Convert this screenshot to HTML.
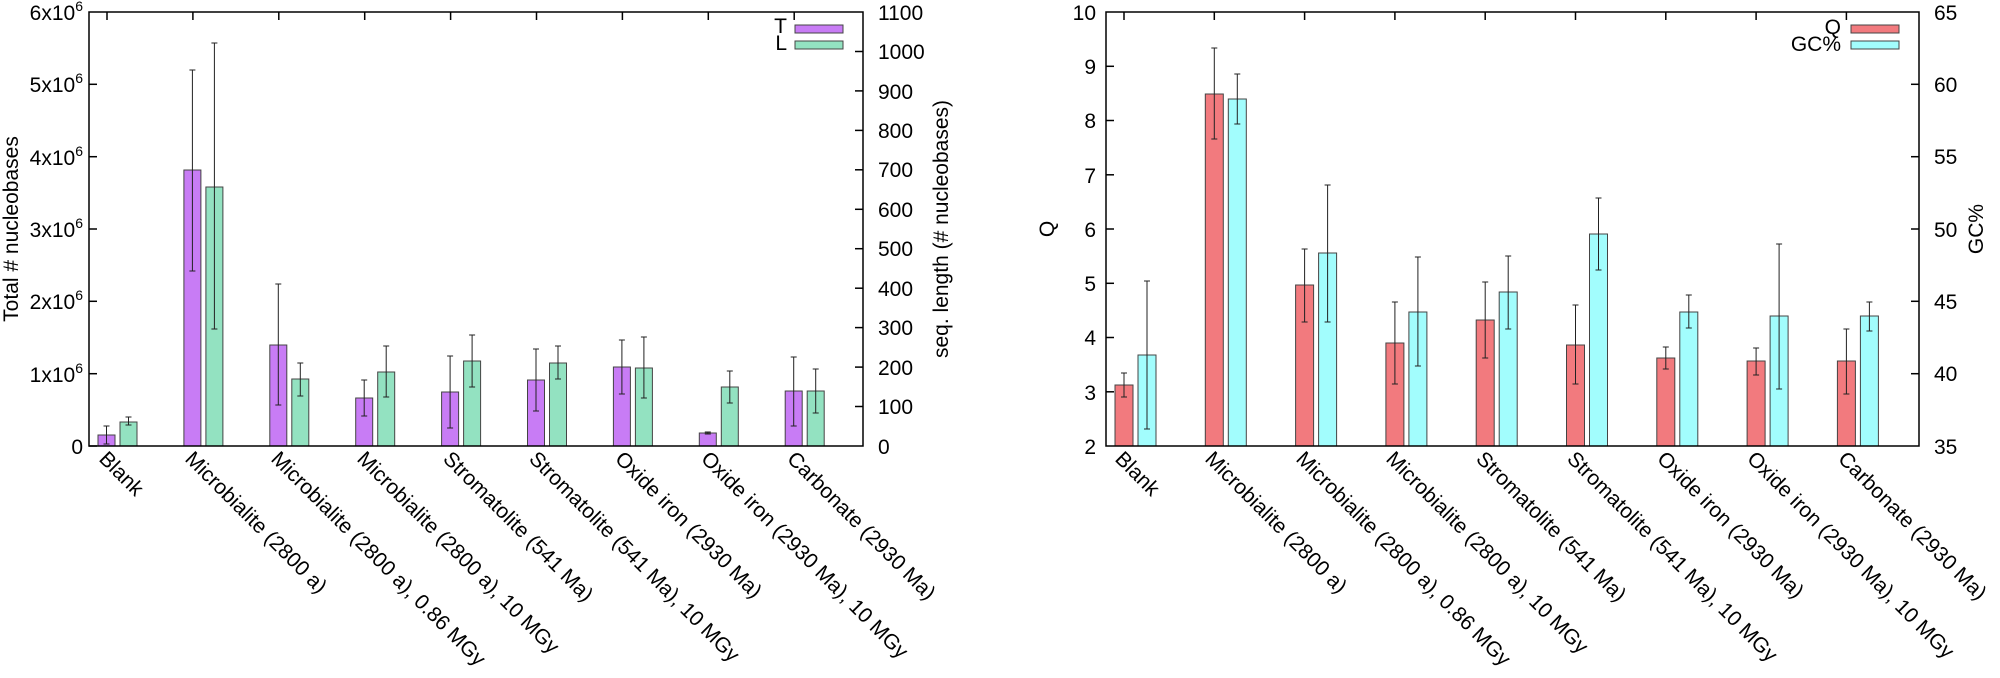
<!DOCTYPE html>
<html><head><meta charset="utf-8"><style>
html,body{margin:0;padding:0;background:#fff;}
svg{display:block;font-family:"Liberation Sans",Arial,sans-serif;}
</style></head><body>
<svg width="2000" height="678" viewBox="0 0 2000 678" xmlns="http://www.w3.org/2000/svg">
<g font-size="21" fill="#000">
<!-- LEFT CHART -->
<g stroke="#000" stroke-width="1.5">
<line x1="89" y1="446" x2="97" y2="446"/><line x1="89" y1="373.7" x2="97" y2="373.7"/><line x1="89" y1="301.3" x2="97" y2="301.3"/><line x1="89" y1="229" x2="97" y2="229"/><line x1="89" y1="156.7" x2="97" y2="156.7"/><line x1="89" y1="84.3" x2="97" y2="84.3"/>
<line x1="863" y1="406.5" x2="855" y2="406.5"/><line x1="863" y1="367.1" x2="855" y2="367.1"/><line x1="863" y1="327.6" x2="855" y2="327.6"/><line x1="863" y1="288.2" x2="855" y2="288.2"/><line x1="863" y1="248.7" x2="855" y2="248.7"/><line x1="863" y1="209.3" x2="855" y2="209.3"/><line x1="863" y1="169.8" x2="855" y2="169.8"/><line x1="863" y1="130.4" x2="855" y2="130.4"/><line x1="863" y1="90.9" x2="855" y2="90.9"/><line x1="863" y1="51.5" x2="855" y2="51.5"/>
<line x1="107" y1="12" x2="107" y2="20"/><line x1="192.9" y1="12" x2="192.9" y2="20"/><line x1="278.8" y1="12" x2="278.8" y2="20"/><line x1="364.7" y1="12" x2="364.7" y2="20"/><line x1="450.6" y1="12" x2="450.6" y2="20"/><line x1="536.5" y1="12" x2="536.5" y2="20"/><line x1="622.4" y1="12" x2="622.4" y2="20"/><line x1="708.3" y1="12" x2="708.3" y2="20"/><line x1="794.2" y1="12" x2="794.2" y2="20"/>
</g>
<g stroke="#444" stroke-width="1">
<rect x="98" y="435" width="17" height="11" fill="#c87cf5"/><rect x="120" y="422" width="17" height="24" fill="#93e2c1"/>
<rect x="183.9" y="170" width="17" height="276" fill="#c87cf5"/><rect x="205.9" y="187" width="17" height="259" fill="#93e2c1"/>
<rect x="269.8" y="345" width="17" height="101" fill="#c87cf5"/><rect x="291.8" y="379" width="17" height="67" fill="#93e2c1"/>
<rect x="355.7" y="398" width="17" height="48" fill="#c87cf5"/><rect x="377.7" y="372" width="17" height="74" fill="#93e2c1"/>
<rect x="441.6" y="392" width="17" height="54" fill="#c87cf5"/><rect x="463.6" y="361" width="17" height="85" fill="#93e2c1"/>
<rect x="527.5" y="380" width="17" height="66" fill="#c87cf5"/><rect x="549.5" y="363" width="17" height="83" fill="#93e2c1"/>
<rect x="613.4" y="367" width="17" height="79" fill="#c87cf5"/><rect x="635.4" y="368" width="17" height="78" fill="#93e2c1"/>
<rect x="699.3" y="433" width="17" height="13" fill="#c87cf5"/><rect x="721.3" y="387" width="17" height="59" fill="#93e2c1"/>
<rect x="785.2" y="391" width="17" height="55" fill="#c87cf5"/><rect x="807.2" y="391" width="17" height="55" fill="#93e2c1"/>
</g>
<g stroke="#222" stroke-width="1" fill="none">
<path d="M106.5 426V444M103.5 426h6M103.5 444h6"/><path d="M128.5 417V425M125.5 417h6M125.5 425h6"/>
<path d="M192.4 70V271M189.4 70h6M189.4 271h6"/><path d="M214.4 43V329M211.4 43h6M211.4 329h6"/>
<path d="M278.3 284V405M275.3 284h6M275.3 405h6"/><path d="M300.3 363V396M297.3 363h6M297.3 396h6"/>
<path d="M364.2 380V416M361.2 380h6M361.2 416h6"/><path d="M386.2 346V397M383.2 346h6M383.2 397h6"/>
<path d="M450.1 356V428M447.1 356h6M447.1 428h6"/><path d="M472.1 335V387M469.1 335h6M469.1 387h6"/>
<path d="M536 349V411M533 349h6M533 411h6"/><path d="M558 346V379M555 346h6M555 379h6"/>
<path d="M621.9 340V394M618.9 340h6M618.9 394h6"/><path d="M643.9 337V398M640.9 337h6M640.9 398h6"/>
<path d="M707.8 432V434M704.8 432h6M704.8 434h6"/><path d="M729.8 371V403M726.8 371h6M726.8 403h6"/>
<path d="M793.7 357V426M790.7 357h6M790.7 426h6"/><path d="M815.7 369V413M812.7 369h6M812.7 413h6"/>
</g>
<rect x="89" y="12" width="774" height="434" fill="none" stroke="#000" stroke-width="1.5"/>
<g text-anchor="end">
<text x="83" y="454">0</text>
<text x="83" y="382">1x10<tspan font-size="14" dy="-9">6</tspan></text>
<text x="83" y="309">2x10<tspan font-size="14" dy="-9">6</tspan></text>
<text x="83" y="237">3x10<tspan font-size="14" dy="-9">6</tspan></text>
<text x="83" y="165">4x10<tspan font-size="14" dy="-9">6</tspan></text>
<text x="83" y="92">5x10<tspan font-size="14" dy="-9">6</tspan></text>
<text x="83" y="20">6x10<tspan font-size="14" dy="-9">6</tspan></text>
</g>
<g text-anchor="start">
<text x="878" y="454">0</text><text x="878" y="414">100</text><text x="878" y="375">200</text><text x="878" y="335">300</text><text x="878" y="296">400</text><text x="878" y="256">500</text><text x="878" y="217">600</text><text x="878" y="177">700</text><text x="878" y="138">800</text><text x="878" y="99">900</text><text x="878" y="59">1000</text><text x="878" y="20">1100</text>
</g>
<text transform="translate(18,229) rotate(-90)" text-anchor="middle">Total # nucleobases</text>
<text transform="translate(948,229) rotate(-90)" text-anchor="middle">seq. length (# nucleobases)</text>
<text x="787" y="33" text-anchor="end">T</text><text x="787" y="50" text-anchor="end">L</text>
<rect x="795" y="25" width="48" height="8" fill="#c87cf5" stroke="#444"/>
<rect x="795" y="41" width="48" height="8" fill="#93e2c1" stroke="#444"/>
<g>
<text transform="translate(98,460) rotate(45)">Blank</text>
<text transform="translate(184,460) rotate(45)">Microbialite (2800 a)</text>
<text transform="translate(270,460) rotate(45)">Microbialite (2800 a), 0.86 MGy</text>
<text transform="translate(356,460) rotate(45)">Microbialite (2800 a), 10 MGy</text>
<text transform="translate(442,460) rotate(45)">Stromatolite (541 Ma)</text>
<text transform="translate(528,460) rotate(45)">Stromatolite (541 Ma), 10 MGy</text>
<text transform="translate(614,460) rotate(45)">Oxide iron (2930 Ma)</text>
<text transform="translate(700,460) rotate(45)">Oxide iron (2930 Ma), 10 MGy</text>
<text transform="translate(786,460) rotate(45)">Carbonate (2930 Ma)</text>
</g>

<!-- RIGHT CHART -->
<g stroke="#000" stroke-width="1.5">
<line x1="1106" y1="391.8" x2="1114" y2="391.8"/><line x1="1106" y1="337.5" x2="1114" y2="337.5"/><line x1="1106" y1="283.3" x2="1114" y2="283.3"/><line x1="1106" y1="229" x2="1114" y2="229"/><line x1="1106" y1="174.8" x2="1114" y2="174.8"/><line x1="1106" y1="120.5" x2="1114" y2="120.5"/><line x1="1106" y1="66.3" x2="1114" y2="66.3"/>
<line x1="1919" y1="373.7" x2="1911" y2="373.7"/><line x1="1919" y1="301.3" x2="1911" y2="301.3"/><line x1="1919" y1="229" x2="1911" y2="229"/><line x1="1919" y1="156.7" x2="1911" y2="156.7"/><line x1="1919" y1="84.3" x2="1911" y2="84.3"/>
<line x1="1124" y1="12" x2="1124" y2="20"/><line x1="1214.3" y1="12" x2="1214.3" y2="20"/><line x1="1304.6" y1="12" x2="1304.6" y2="20"/><line x1="1394.9" y1="12" x2="1394.9" y2="20"/><line x1="1485.2" y1="12" x2="1485.2" y2="20"/><line x1="1575.5" y1="12" x2="1575.5" y2="20"/><line x1="1665.8" y1="12" x2="1665.8" y2="20"/><line x1="1756.1" y1="12" x2="1756.1" y2="20"/><line x1="1846.4" y1="12" x2="1846.4" y2="20"/>
</g>
<g stroke="#444" stroke-width="1">
<rect x="1115" y="385" width="18" height="61" fill="#f27a7e"/><rect x="1138" y="355" width="18" height="91" fill="#a2fdfd"/>
<rect x="1205.3" y="94" width="18" height="352" fill="#f27a7e"/><rect x="1228.3" y="99" width="18" height="347" fill="#a2fdfd"/>
<rect x="1295.6" y="285" width="18" height="161" fill="#f27a7e"/><rect x="1318.6" y="253" width="18" height="193" fill="#a2fdfd"/>
<rect x="1385.9" y="343" width="18" height="103" fill="#f27a7e"/><rect x="1408.9" y="312" width="18" height="134" fill="#a2fdfd"/>
<rect x="1476.2" y="320" width="18" height="126" fill="#f27a7e"/><rect x="1499.2" y="292" width="18" height="154" fill="#a2fdfd"/>
<rect x="1566.5" y="345" width="18" height="101" fill="#f27a7e"/><rect x="1589.5" y="234" width="18" height="212" fill="#a2fdfd"/>
<rect x="1656.8" y="358" width="18" height="88" fill="#f27a7e"/><rect x="1679.8" y="312" width="18" height="134" fill="#a2fdfd"/>
<rect x="1747.1" y="361" width="18" height="85" fill="#f27a7e"/><rect x="1770.1" y="316" width="18" height="130" fill="#a2fdfd"/>
<rect x="1837.4" y="361" width="18" height="85" fill="#f27a7e"/><rect x="1860.4" y="316" width="18" height="130" fill="#a2fdfd"/>
</g>
<g stroke="#222" stroke-width="1" fill="none">
<path d="M1124 373V397M1121 373h6M1121 397h6"/><path d="M1147 281V429M1144 281h6M1144 429h6"/>
<path d="M1214.3 48V139M1211.3 48h6M1211.3 139h6"/><path d="M1237.3 74V124M1234.3 74h6M1234.3 124h6"/>
<path d="M1304.6 249V322M1301.6 249h6M1301.6 322h6"/><path d="M1327.6 185V322M1324.6 185h6M1324.6 322h6"/>
<path d="M1394.9 302V384M1391.9 302h6M1391.9 384h6"/><path d="M1417.9 257V366M1414.9 257h6M1414.9 366h6"/>
<path d="M1485.2 282V358M1482.2 282h6M1482.2 358h6"/><path d="M1508.2 256V329M1505.2 256h6M1505.2 329h6"/>
<path d="M1575.5 305V384M1572.5 305h6M1572.5 384h6"/><path d="M1598.5 198V270M1595.5 198h6M1595.5 270h6"/>
<path d="M1665.8 347V369M1662.8 347h6M1662.8 369h6"/><path d="M1688.8 295V328M1685.8 295h6M1685.8 328h6"/>
<path d="M1756.1 348V375M1753.1 348h6M1753.1 375h6"/><path d="M1779.1 244V389M1776.1 244h6M1776.1 389h6"/>
<path d="M1846.4 329V394M1843.4 329h6M1843.4 394h6"/><path d="M1869.4 302V331M1866.4 302h6M1866.4 331h6"/>
</g>
<rect x="1106" y="12" width="813" height="434" fill="none" stroke="#000" stroke-width="1.5"/>
<g text-anchor="end">
<text x="1096" y="454">2</text><text x="1096" y="400">3</text><text x="1096" y="345">4</text><text x="1096" y="291">5</text><text x="1096" y="237">6</text><text x="1096" y="183">7</text><text x="1096" y="128">8</text><text x="1096" y="74">9</text><text x="1096" y="20">10</text>
</g>
<g text-anchor="start">
<text x="1934" y="454">35</text><text x="1934" y="381">40</text><text x="1934" y="309">45</text><text x="1934" y="237">50</text><text x="1934" y="164">55</text><text x="1934" y="92">60</text><text x="1934" y="20">65</text>
</g>
<text transform="translate(1054,229) rotate(-90)" text-anchor="middle">Q</text>
<text transform="translate(1983,229) rotate(-90)" text-anchor="middle">GC%</text>
<text x="1841" y="34" text-anchor="end">Q</text><text x="1841" y="51" text-anchor="end">GC%</text>
<rect x="1851" y="25" width="48" height="8" fill="#f27a7e" stroke="#444"/>
<rect x="1851" y="41" width="48" height="8" fill="#a2fdfd" stroke="#444"/>
<g>
<text transform="translate(1114,460) rotate(45)">Blank</text>
<text transform="translate(1204,460) rotate(45)">Microbialite (2800 a)</text>
<text transform="translate(1295,460) rotate(45)">Microbialite (2800 a), 0.86 MGy</text>
<text transform="translate(1385,460) rotate(45)">Microbialite (2800 a), 10 MGy</text>
<text transform="translate(1475,460) rotate(45)">Stromatolite (541 Ma)</text>
<text transform="translate(1566,460) rotate(45)">Stromatolite (541 Ma), 10 MGy</text>
<text transform="translate(1656,460) rotate(45)">Oxide iron (2930 Ma)</text>
<text transform="translate(1746,460) rotate(45)">Oxide iron (2930 Ma), 10 MGy</text>
<text transform="translate(1837,460) rotate(45)">Carbonate (2930 Ma)</text>
</g>
</g>
</svg>
</body></html>
